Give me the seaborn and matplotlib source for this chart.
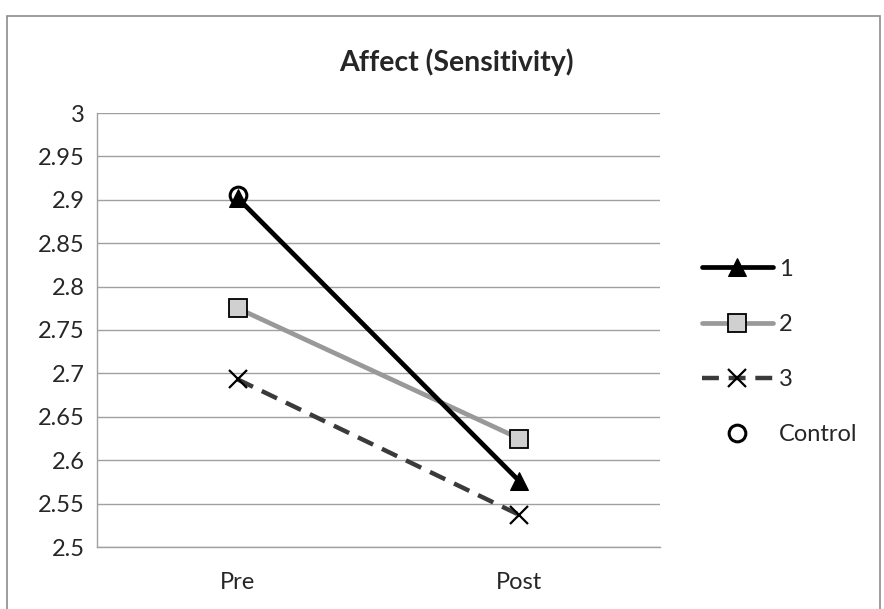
import matplotlib
matplotlib.use("Agg")
import matplotlib.pyplot as plt
import seaborn as sns
import pandas as pd
from matplotlib.patches import Rectangle
from matplotlib.ticker import FixedLocator

sns.set_theme(style="white")
plt.rcParams['font.family'] = ['Lato', 'DejaVu Sans']

phases = ["Pre", "Post"]
series_1 = [2.902, 2.576]
series_2 = [2.775, 2.625]
series_3 = [2.693, 2.537]
control_phases = ["Pre"]
control = [2.906]
yticks = [2.5, 2.55, 2.6, 2.65, 2.7, 2.75, 2.8, 2.85, 2.9, 2.95, 3]
title = "Affect (Sensitivity)"

fs = 17

fig = plt.figure(figsize=(8.84, 6.09), dpi=100)
ax = fig.add_axes([97/884, 62/609, (660-97)/884, (547-113)/609])

grid_c = "#a0a0a0"
for y in yticks:
    ax.axhline(y, color=grid_c, lw=1.0, zorder=0)

df1 = pd.DataFrame({"phase": phases, "value": series_1})
df2 = pd.DataFrame({"phase": phases, "value": series_2})
df3 = pd.DataFrame({"phase": phases, "value": series_3})
dfc = pd.DataFrame({"phase": control_phases, "value": control})

sns.lineplot(data=df1, x="phase", y="value", ax=ax, color="black", lw=3.4,
             marker="^", markersize=13, markerfacecolor="black",
             markeredgecolor="black", label="1", sort=False, zorder=4)
sns.lineplot(data=df2, x="phase", y="value", ax=ax, color="#999999", lw=3.4,
             marker="s", markersize=13, markerfacecolor="#d0d0d0",
             markeredgecolor="black", markeredgewidth=1.3, label="2", sort=False, zorder=3)
sns.lineplot(data=df3, x="phase", y="value", ax=ax, color="#3a3a3a", lw=3.2,
             linestyle=(0, (3.8, 2.2)), marker="x", markersize=13,
             markeredgecolor="black", markeredgewidth=1.6, label="3", sort=False, zorder=3)
sns.lineplot(data=dfc, x="phase", y="value", ax=ax, color="black", lw=0,
             marker="o", markersize=12, markerfacecolor="none",
             markeredgecolor="black", markeredgewidth=2.2, label="Control", sort=False, zorder=5)

ax.set_xlim(-0.5, 1.5)
ax.set_ylim(2.5, 3.0)
ax.set_yticks(yticks)
ax.set_yticklabels([f"{v:g}" for v in yticks], fontsize=fs)
ax.set_xticks([0, 1])
ax.set_xticklabels(phases, fontsize=fs)
ax.xaxis.set_minor_locator(FixedLocator([-0.5, 0.5, 1.5]))
ax.tick_params(axis="x", which="major", length=0, pad=18)
ax.tick_params(axis="x", which="minor", length=6, color=grid_c, width=1, direction="out")
ax.tick_params(axis="y", length=5, color=grid_c, width=1, direction="out", pad=4)
ax.set_xlabel("")
ax.set_ylabel("")
for s in ["top", "right"]:
    ax.spines[s].set_visible(False)
for s in ["left", "bottom"]:
    ax.spines[s].set_color(grid_c)
    ax.spines[s].set_linewidth(1.0)

fig.text(456/884, 1 - 62/609, title, ha="center", va="center",
         fontsize=20.5, fontweight="bold")

leg = ax.legend(loc="center left", bbox_to_anchor=(702/884, 1 - 352/609),
                bbox_transform=fig.transFigure, frameon=False, fontsize=fs,
                handlelength=3.0, labelspacing=1.45, handletextpad=0.25,
                borderaxespad=0, borderpad=0)

fig.patches.append(Rectangle((7/884, -0.05), (880-7)/884, 1.05 - 16/609,
                             transform=fig.transFigure, fill=False,
                             edgecolor="#8c8c8c", lw=1.2))

fig.savefig("out.png", dpi=100)
